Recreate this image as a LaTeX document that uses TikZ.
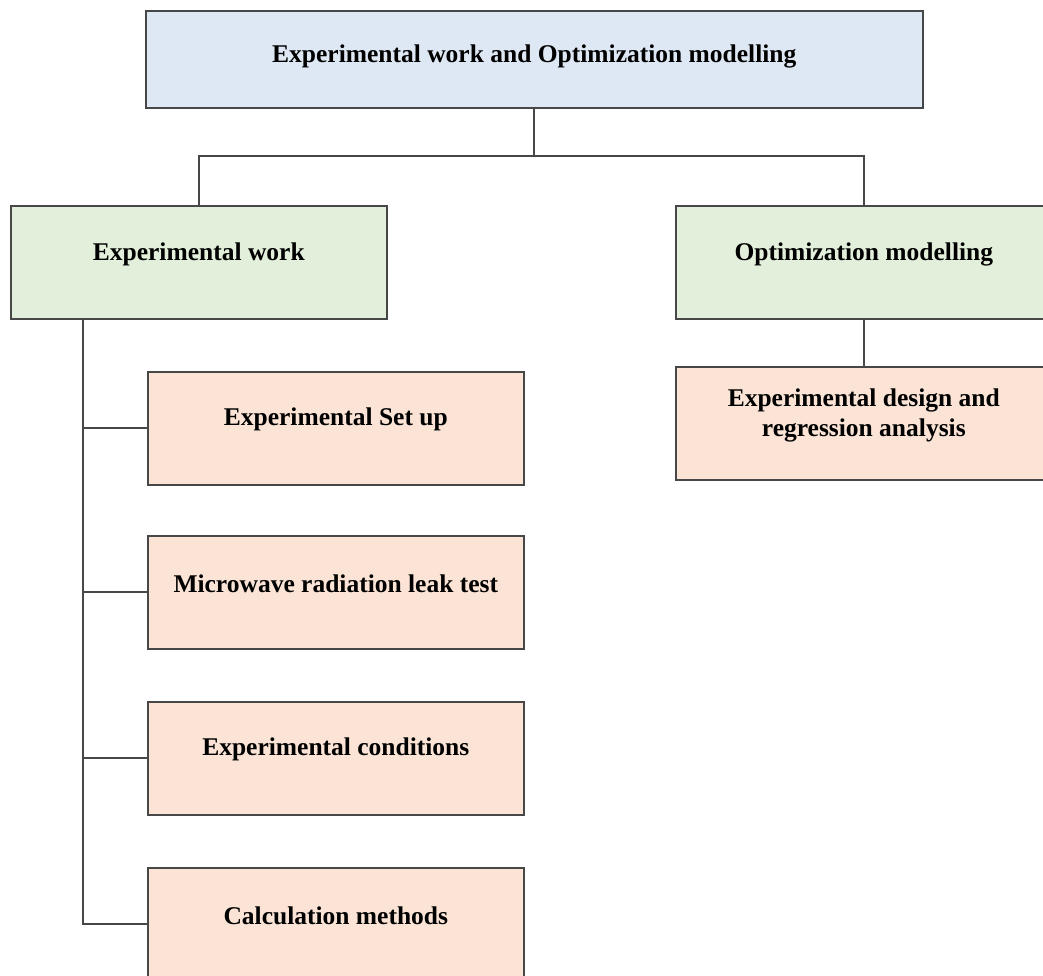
\documentclass[tikz,border=0pt]{standalone}
\usepackage{fontspec}
\setmainfont{Liberation Serif}
\definecolor{topblue}{HTML}{DEE8F4}
\definecolor{leafgreen}{HTML}{E2EFDA}
\definecolor{peach}{HTML}{FBE4D6}
\definecolor{edge}{HTML}{474747}
\begin{document}
\begin{tikzpicture}[x=1pt,y=-1pt,
  box/.style={draw=edge,line width=1.6pt,minimum width=376pt,minimum height=113pt,inner sep=0pt,anchor=north west},
  txt/.style={font=\fontsize{25.5}{30}\selectfont\bfseries,align=center,inner sep=0pt},
  wire/.style={draw=edge,line width=1.8pt}]
\useasboundingbox (0,0) rectangle (1043,976);
\clip (0,0) rectangle (1043,976);
\fill[white] (0,0) rectangle (1043,976);

% top level
\node[box,fill=topblue,minimum width=777pt,minimum height=97pt] (top) at (145,10) {};
\node[txt] (topT) at ([yshift=3]top.center) {Experimental work and Optimization modelling};

% second level
\node[box,fill=leafgreen] (ew) at (10,205) {};
\node[txt] (ewT) at ([yshift=8]ew.center) {Experimental work};
\node[box,fill=leafgreen] (om) at (675,205) {};
\node[txt] (omT) at ([yshift=8]om.center) {Optimization modelling};

% experimental work items
\node[box,fill=peach] (su) at (147,371) {};
\node[txt] (suT) at ([yshift=9]su.center) {Experimental Set up};
\node[box,fill=peach] (mw) at (147,535) {};
\node[txt] (mwT) at ([yshift=9]mw.center) {Microwave radiation leak test};
\node[box,fill=peach] (ec) at (147,701) {};
\node[txt] (ecT) at ([yshift=9]ec.center) {Experimental conditions};
\node[box,fill=peach] (cm) at (147,867) {};
\node[txt] (cmT) at ([yshift=9]cm.center) {Calculation methods};

% optimization item
\node[box,fill=peach] (ed) at (675,366) {};
\node[txt] (edT) at ([yshift=8]ed.center) {Experimental design and\\regression analysis};

% connectors
\coordinate (hub) at (top.south |- 0,156);
\draw[wire] (top.south) -- (hub);
\draw[wire] (hub) -| (ew.north);
\draw[wire] (hub) -| (om.north);
\coordinate (spine) at (83,0);
\draw[wire] (ew.south -| spine) |- (cm.west);
\draw[wire] (su.west -| spine) -- (su.west);
\draw[wire] (mw.west -| spine) -- (mw.west);
\draw[wire] (ec.west -| spine) -- (ec.west);
\draw[wire] (om.south) -- (ed.north);
\end{tikzpicture}
\end{document}
